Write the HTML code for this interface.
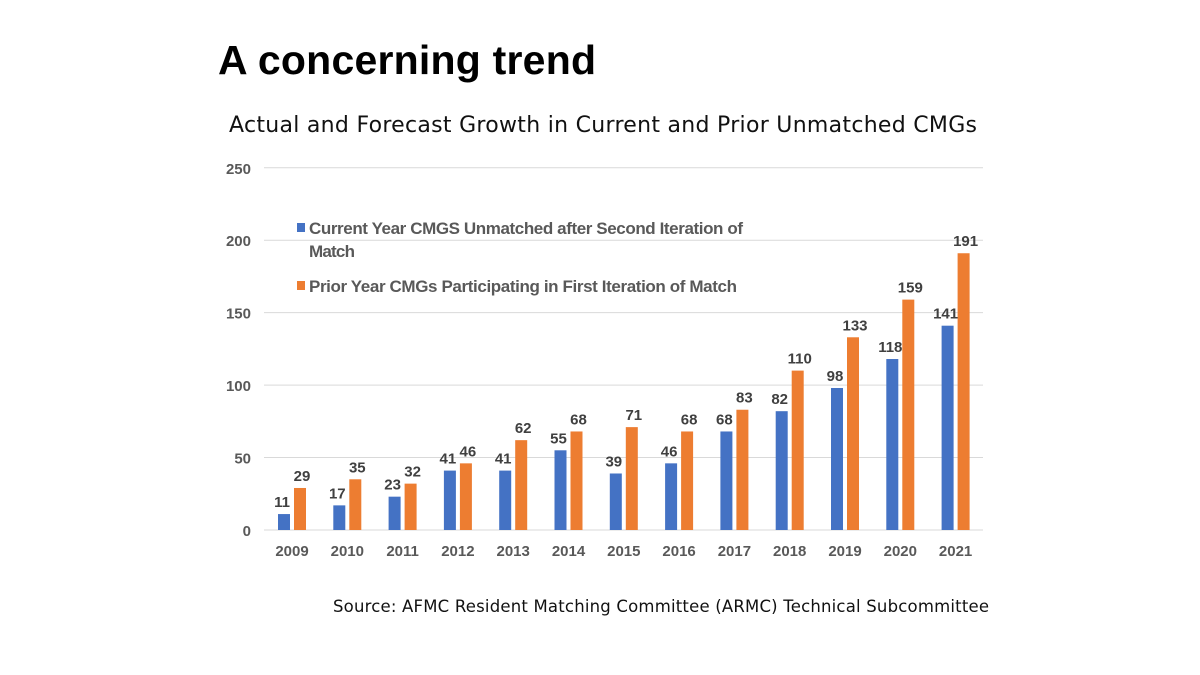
<!DOCTYPE html>
<html><head><meta charset="utf-8"><style>
body{margin:0;background:#fff;}
#wrap{position:relative;width:1200px;height:675px;overflow:hidden;font-family:"Liberation Sans",sans-serif;}
</style></head><body>
<div id="wrap">
<svg id="chart" width="1200" height="675">
<text x="218" y="74" font-size="41" font-weight="bold" fill="#000" font-family="Liberation Sans" textLength="378">A concerning trend</text>
<text x="229" y="132" font-size="22" fill="#111" font-family="DejaVu Sans" textLength="748">Actual and Forecast Growth in Current and Prior Unmatched CMGs</text>
<text x="333" y="612" font-size="16.5" fill="#111" font-family="DejaVu Sans" textLength="656">Source: AFMC Resident Matching Committee (ARMC) Technical Subcommittee</text>
<g id="grid"></g><g id="bars"></g>
<g>
<rect x="297" y="223" width="8" height="9" fill="#4472c4"/>
<text x="309" y="234" font-size="17" font-weight="bold" fill="#595959" textLength="434">Current Year CMGS Unmatched after Second Iteration of</text>
<text x="309" y="257" font-size="17" font-weight="bold" fill="#595959" textLength="46">Match</text>
<rect x="297" y="281" width="8" height="9" fill="#ed7d31"/>
<text x="309" y="292" font-size="17" font-weight="bold" fill="#595959" textLength="428">Prior Year CMGs Participating in First Iteration of Match</text>
</g>
</svg>
</div>
<script>
const years=["2009","2010","2011","2012","2013","2014","2015","2016","2017","2018","2019","2020","2021"];
const current=[11,17,23,41,41,55,39,46,68,82,98,118,141];
const prior=[29,35,32,46,62,68,71,68,83,110,133,159,191];
const yTicks=[0,50,100,150,200,250];
const NS="http://www.w3.org/2000/svg";
function y(v){return 530-v*1.449;}
function xc(i){return 292+i*55.3;}
const grid=document.getElementById('grid'),bars=document.getElementById('bars');
function mk(tag,attrs,parent,txt){const e=document.createElementNS(NS,tag);for(const k in attrs)e.setAttribute(k,attrs[k]);if(txt!==undefined)e.textContent=txt;parent.appendChild(e);return e;}
yTicks.forEach(t=>{
 const l=mk('line',{x1:264,x2:983,y1:y(t),y2:y(t),stroke:'#d9d9d9','stroke-width':1},grid);
 
 
 const tx=mk('text',{x:251,y:y(t)+6,'text-anchor':'end','font-size':15,'font-weight':'bold',fill:'#595959'},grid,t);
 
 
});
years.forEach((yr,i)=>{
 const c=xc(i);
 const b=mk('rect',{x:c-14,y:y(current[i]),width:12,height:current[i]*1.449,fill:'#4472c4'},bars);
 
 
 const o=mk('rect',{x:c+2,y:y(prior[i]),width:12,height:prior[i]*1.449,fill:'#ed7d31'},bars);
 
 
 const lc=mk('text',{x:c-10,y:y(current[i])-7,'text-anchor':'middle','font-size':15,'font-weight':'bold',fill:'#404040'},bars,current[i]);
 
 
 const lp=mk('text',{x:c+10,y:y(prior[i])-7,'text-anchor':'middle','font-size':15,'font-weight':'bold',fill:'#404040'},bars,prior[i]);
 
 
 const xl=mk('text',{x:c,y:556,'text-anchor':'middle','font-size':15,'font-weight':'bold',fill:'#595959'},bars,yr);
 
 
});
</script>
</body></html>
